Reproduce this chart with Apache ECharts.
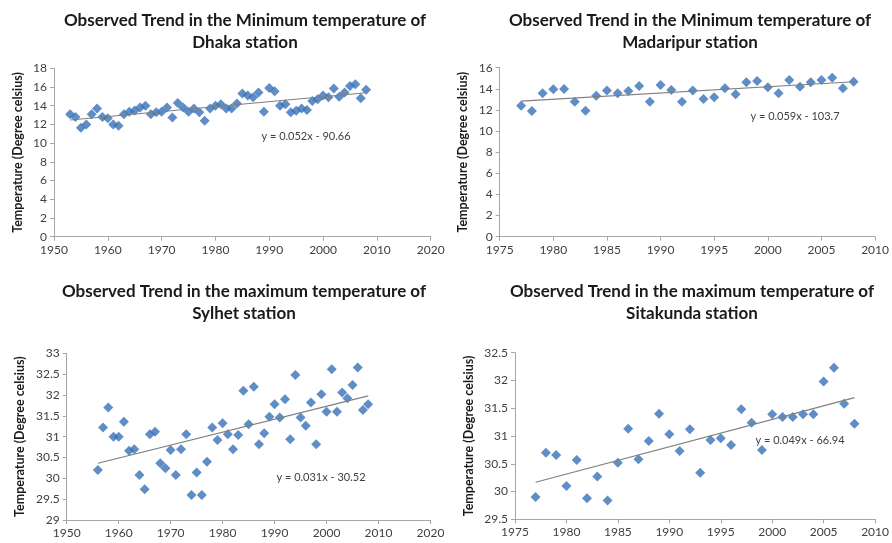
<!DOCTYPE html>
<html>
<head>
<meta charset="utf-8">
<script src="https://cdn.jsdelivr.net/npm/echarts@6/dist/echarts.min.js"></script>
<style>html,body{margin:0;padding:0;background:#fff;}#c{width:892px;height:543px;}</style>
</head>
<body>
<div id="c"></div>
<script>
// ---- Data ----
const dhakaYears = [1953,1954,1955,1956,1957,1958,1959,1960,1961,1962,1963,1964,1965,1966,1967,1968,1969,1970,1971,1972,1973,1974,1975,1976,1977,1978,1979,1980,1981,1982,1983,1984,1985,1986,1987,1988,1989,1990,1991,1992,1993,1994,1995,1996,1997,1998,1999,2000,2001,2002,2003,2004,2005,2006,2007,2008];
const dhakaMin = [13.1,12.8,11.65,12.0,13.1,13.7,12.8,12.65,12.0,11.85,13.1,13.35,13.5,13.8,14.0,13.1,13.3,13.35,13.8,12.75,14.3,13.8,13.35,13.7,13.3,12.4,13.7,14.0,14.15,13.7,13.7,14.25,15.3,15.1,14.9,15.4,13.35,15.9,15.55,14.0,14.15,13.3,13.45,13.7,13.55,14.5,14.7,15.1,14.9,15.85,14.95,15.4,16.1,16.3,14.8,15.7];

const madaripurYears = [1977,1978,1979,1980,1981,1982,1983,1984,1985,1986,1987,1988,1989,1990,1991,1992,1993,1994,1995,1996,1997,1998,1999,2000,2001,2002,2003,2004,2005,2006,2007,2008];
const madaripurMin = [12.4,11.9,13.58,13.95,13.98,12.78,11.93,13.35,13.83,13.58,13.8,14.27,12.78,14.37,13.9,12.78,13.83,13.04,13.2,14.05,13.48,14.62,14.74,14.15,13.58,14.84,14.2,14.62,14.84,15.06,14.05,14.68];

const sylhetYears = [1956,1957,1958,1959,1960,1961,1962,1963,1964,1965,1966,1967,1968,1969,1970,1971,1972,1973,1974,1975,1976,1977,1978,1979,1980,1981,1982,1983,1984,1985,1986,1987,1988,1989,1990,1991,1992,1993,1994,1995,1996,1997,1998,1999,2000,2001,2002,2003,2004,2005,2006,2007,2008];
const sylhetMax = [30.2,31.22,31.7,31.0,31.0,31.36,30.66,30.7,30.08,29.74,31.06,31.12,30.36,30.24,30.68,30.08,30.7,31.06,29.6,30.14,29.6,30.4,31.22,30.92,31.32,31.06,30.7,31.04,32.1,31.3,32.2,30.82,31.08,31.48,31.78,31.46,31.9,30.94,32.48,31.46,31.26,31.82,30.82,32.02,31.6,32.62,31.6,32.06,31.92,32.24,32.66,31.64,31.78];

const sitakundaYears = [1977,1978,1979,1980,1981,1982,1983,1984,1985,1986,1987,1988,1989,1990,1991,1992,1993,1994,1995,1996,1997,1998,1999,2000,2001,2002,2003,2004,2005,2006,2007,2008];
const sitakundaMax = [29.9,30.7,30.66,30.1,30.57,29.88,30.27,29.84,30.52,31.13,30.58,30.91,31.4,31.03,30.73,31.12,30.34,30.93,30.96,30.84,31.48,31.24,30.75,31.39,31.34,31.34,31.39,31.39,31.98,32.23,31.58,31.22];

const titles = [
  'Observed Trend in the Minimum temperature of\nDhaka station',
  'Observed Trend in the Minimum temperature of\nMadaripur station',
  'Observed Trend in the maximum temperature of\nSylhet station',
  'Observed Trend in the maximum temperature of\nSitakunda station'
];
const equations = ['y = 0.052x - 90.66', 'y = 0.059x - 103.7', 'y = 0.031x - 30.52', 'y = 0.049x - 66.94'];
const yAxisName = 'Temperature (Degree celsius)';
// axis ranges: [min, max, interval]
const xRanges = [[1950,2020,10],[1975,2010,5],[1950,2020,10],[1975,2010,5]];
const yRanges = [[0,18,2],[0,16,2],[29,33,0.5],[29.5,32.5,0.5]];

// ---- helpers ----
function fit(xs, ys) {
  const n = xs.length;
  let sx=0, sy=0, sxx=0, sxy=0;
  for (let i=0;i<n;i++){ sx+=xs[i]; sy+=ys[i]; sxx+=xs[i]*xs[i]; sxy+=xs[i]*ys[i]; }
  const b = (n*sxy - sx*sy)/(n*sxx - sx*sx);
  const a = (sy - b*sx)/n;
  const x0 = Math.min(...xs), x1 = Math.max(...xs);
  return [[x0, a+b*x0],[x1, a+b*x1]];
}
const sets = [[dhakaYears,dhakaMin],[madaripurYears,madaripurMin],[sylhetYears,sylhetMax],[sitakundaYears,sitakundaMax]];

const grids = [
  {left:54, top:68.3, width:376.7, height:168.4},
  {left:499.7, top:67.7, width:376.3, height:169},
  {left:66.7, top:353.3, width:363.8, height:166.7},
  {left:515, top:352.7, width:363.3, height:166.6}
];
const titlePos = [[245,9],[690,9],[244,280],[692,280]];
const eqPos = [[306,136],[795,116],[321,477],[800,440]];
const FONT = 'Lato, "Open Sans", sans-serif';
const axisColor = '#a6a6a6';
const labelColor = '#404040';

const option = {
  backgroundColor:'#fff',
  animation:false,
  grid: grids.map(g => Object.assign({containLabel:false}, g)),
  xAxis: xRanges.map((r,i)=>({
    type:'value', gridIndex:i, min:r[0], max:r[1], interval:r[2],
    axisLine:{show:true, onZero:false, lineStyle:{color:axisColor, width:1}},
    axisTick:{show:true, length:4, lineStyle:{color:axisColor}},
    splitLine:{show:false},
    axisLabel:{color:labelColor, fontFamily:FONT, fontSize:12, margin:7, formatter:v=>String(v)}
  })),
  yAxis: yRanges.map((r,i)=>({
    type:'value', gridIndex:i, min:r[0], max:r[1], interval:r[2],
    name: yAxisName, nameLocation:'middle', nameRotate:90, nameGap: (i===2||i===3)? 40 : 30,
    nameTextStyle:{color:'#1a1a1a', fontFamily:FONT, fontSize:12.5, fontWeight:'bold'},
    axisLine:{show:true, onZero:false, lineStyle:{color:axisColor, width:1}},
    axisTick:{show:true, length:4, lineStyle:{color:axisColor}},
    splitLine:{show:false},
    axisLabel:{color:labelColor, fontFamily:FONT, fontSize:12, margin:7, formatter:v=>String(v)}
  })),
  series: [],
  graphic: []
};
sets.forEach((s,i)=>{
  option.series.push({
    type:'scatter', xAxisIndex:i, yAxisIndex:i,
    data: s[0].map((x,k)=>[x, s[1][k]]),
    symbol:'diamond', symbolSize:10,
    itemStyle:{color:'#3770b6'}, z:3
  });
  option.series.push({
    type:'line', xAxisIndex:i, yAxisIndex:i,
    data: fit(s[0], s[1]), symbol:'none',
    lineStyle:{color:'#7f7f7f', width:1.2}, z:4, silent:true
  });
  option.graphic.push({
    type:'text', x:titlePos[i][0], y:titlePos[i][1],
    style:{text:titles[i], fill:'#1a1a1a', font:'bold 17px '+FONT, textAlign:'center', textVerticalAlign:'top', lineHeight:22.5}
  });
  option.graphic.push({
    type:'text', x:eqPos[i][0], y:eqPos[i][1],
    style:{text:equations[i], fill:labelColor, font:'11px '+FONT, textAlign:'center', textVerticalAlign:'middle'}
  });
});
const chart = echarts.init(document.getElementById('c'), null, {renderer:'canvas'});
chart.setOption(option);
</script>
</body>
</html>
